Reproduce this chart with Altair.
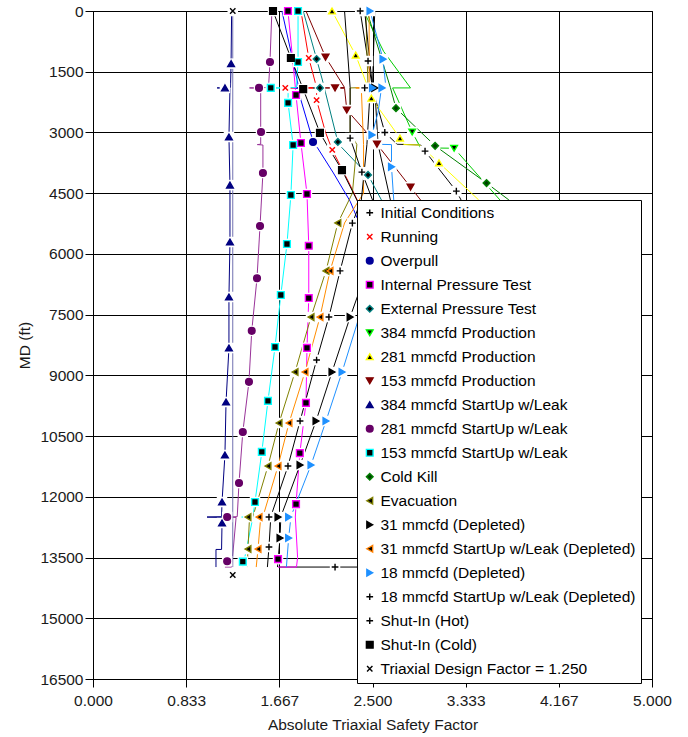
import altair as alt
import pandas as pd

# ---------------- data ----------------
names = [
    "Initial Conditions", "Running", "Overpull", "Internal Pressure Test",
    "External Pressure Test", "384 mmcfd Production", "281 mmcfd Production",
    "153 mmcfd Production", "384 mmcfd StartUp w/Leak", "281 mmcfd StartUp w/Leak",
    "153 mmcfd StartUp w/Leak", "Cold Kill", "Evacuation", "31 mmcfd (Depleted)",
    "31 mmcfd StartUp w/Leak (Depleted)", "18 mmcfd (Depleted)",
    "18 mmcfd StartUp w/Leak (Depleted)", "Shut-In (Hot)", "Shut-In (Cold)",
    "Triaxial Design Factor = 1.250",
]

# (MD ft, safety factor)
init_line = [(0, 2.39), (1235, 2.46), (1890, 2.50), (1900, 2.43), (1910, 2.50), (3000, 2.61),
             (3290, 2.72), (3310, 2.93), (3460, 2.97), (4450, 3.25), (6000, 3.55), (9000, 3.85),
             (13735, 4.2), (13735, 1.66)]
init_marks = [(0, 2.39), (1235, 2.46), (1900, 2.43), (3000, 2.61), (3460, 2.97), (4450, 3.25),
              (13735, 2.165)]

run_line = [(0, 1.86), (1160, 1.93), (1890, 2.0), (1900, 1.70), (1910, 2.0), (2200, 2.0),
            (3000, 2.08), (3430, 2.14), (4300, 2.30), (5000, 2.42), (8000, 2.9), (13735, 3.4)]
run_marks = [(1160, 1.93), (1900, 1.72), (2200, 2.0), (3430, 2.14)]

over_line = [(0, 1.69), (1000, 1.77), (1890, 1.84), (1900, 1.80), (1910, 1.84), (2200, 1.86),
             (3235, 1.97), (3300, 1.99), (4000, 2.15), (4700, 2.30), (8000, 2.8), (13735, 3.3)]
over_marks = [(3235, 1.968)]

ipt_line = [(0, 1.744), (1890, 1.81), (1900, 1.79), (1910, 1.81), (2075, 1.816), (3260, 1.86),
            (4520, 1.914), (5800, 1.93), (7090, 1.93), (8320, 1.914), (9680, 1.905),
            (10920, 1.85), (12180, 1.816), (12500, 1.81), (13500, 1.83), (13735, 1.82),
            (13735, 1.655)]
ipt_marks = [(0, 1.744), (2075, 1.816), (3260, 1.86), (4520, 1.914), (5800, 1.93), (7090, 1.93),
             (8320, 1.914), (9680, 1.905), (10920, 1.85), (12180, 1.816), (13540, 1.655)]

ept_line = [(0, 1.88), (1185, 2.0), (1890, 2.07), (1900, 1.97), (1910, 2.07), (3235, 2.19),
            (3300, 2.20), (4050, 2.46), (4668, 2.58), (8000, 3.1), (13735, 3.7)]
ept_marks = [(1185, 2.0), (1900, 2.03), (3235, 2.19), (4050, 2.46)]

p384_line = [(0, 2.42), (1000, 2.60), (1900, 2.84), (1900, 2.68), (2989, 2.855), (3380, 2.93),
             (3390, 3.23), (4668, 3.64), (6500, 4.1), (13735, 4.6)]
p384_marks = [(2989, 2.855), (3390, 3.23)]

p281_line = [(0, 2.138), (1090, 2.35), (1890, 2.46), (2150, 2.49), (3140, 2.746), (3300, 2.78),
             (3310, 2.92), (3750, 3.095), (4668, 3.45), (8000, 4.1), (13735, 4.5)]
p281_marks = [(0, 2.138), (1090, 2.35), (2150, 2.49), (3140, 2.746), (3750, 3.095)]

p153_line = [(0, 1.905), (1140, 2.08), (1890, 2.25), (1900, 2.057), (1910, 2.25), (2445, 2.27),
             (3290, 2.54), (4350, 2.84), (4668, 2.93), (8000, 3.6), (13735, 4.4)]
p153_marks = [(1140, 2.08), (1900, 2.165), (2445, 2.27), (3290, 2.54), (4350, 2.84)]

s384_line = [(0, 1.24), (1300, 1.235), (1890, 1.23), (1900, 1.11), (1910, 1.225), (3112, 1.216),
             (4300, 1.225), (5706, 1.225), (7064, 1.216), (8324, 1.216), (9658, 1.19),
             (10967, 1.18), (12128, 1.154), (12490, 1.15), (12500, 1.02), (12510, 1.15),
             (12646, 1.154), (13300, 1.15), (13300, 1.10), (13735, 1.10)]
s384_marks = [(1300, 1.235), (1900, 1.18), (3112, 1.216), (4300, 1.225), (5706, 1.225),
              (7064, 1.216), (8324, 1.216), (9658, 1.19), (10967, 1.18), (12128, 1.154),
              (12646, 1.154)]

s281_line = [(0, 1.60), (1260, 1.583), (1890, 1.57), (1900, 1.40), (1910, 1.50), (2989, 1.50),
             (3290, 1.50), (3300, 1.47), (3310, 1.52), (4000, 1.52), (5310, 1.494), (6600, 1.467),
             (7900, 1.42), (9160, 1.395), (10400, 1.34), (11660, 1.306), (12490, 1.29),
             (12500, 1.20), (12510, 1.28), (13735, 1.24), (13735, 1.18)]
s281_marks = [(1260, 1.583), (1900, 1.485), (2989, 1.503), (4000, 1.52), (5310, 1.494),
              (6600, 1.467), (7900, 1.42), (9160, 1.395), (10400, 1.34), (11660, 1.306),
              (12500, 1.20), (13590, 1.20)]

s153_line = [(0, 1.834), (1260, 1.834), (1890, 1.82), (1900, 1.59), (1910, 1.745), (2270, 1.745),
             (3310, 1.79), (4545, 1.77), (5755, 1.735), (7015, 1.68), (8300, 1.628),
             (9630, 1.565), (10890, 1.51), (12128, 1.449), (12490, 1.43), (12500, 1.33),
             (12510, 1.43), (13600, 1.35), (13735, 1.34)]
s153_marks = [(0, 1.834), (1260, 1.834), (1900, 1.59), (2270, 1.745), (3310, 1.79), (4545, 1.77),
              (5755, 1.735), (7015, 1.68), (8300, 1.628), (9630, 1.565), (10890, 1.51),
              (12128, 1.449), (13600, 1.34)]

kill_line = [(0, 2.45), (1890, 2.66), (2400, 2.71), (3330, 3.06), (4250, 3.52), (4668, 3.72),
             (8000, 4.3), (13735, 4.6)]
kill_marks = [(2400, 2.71), (3330, 3.06), (4250, 3.52)]

evac_line = [(0, 2.44), (1890, 2.46), (1900, 2.30), (3000, 2.30), (3300, 2.36), (4500, 2.32),
             (5236, 2.19), (6420, 2.084), (7560, 1.95), (8917, 1.807), (10177, 1.664),
             (11240, 1.565), (12490, 1.43), (12500, 1.386), (12510, 1.40), (13290, 1.386),
             (13735, 1.38)]
evac_marks = [(5236, 2.19), (6420, 2.084), (7560, 1.95), (8917, 1.807), (10177, 1.664),
              (11240, 1.565), (12500, 1.386), (13290, 1.386)]

d31_line = [(0, 2.43), (1890, 2.50), (1900, 2.52), (3300, 2.55), (4668, 2.66), (6000, 2.50),
            (7560, 2.30), (8917, 2.138), (10127, 1.995), (11215, 1.852), (12490, 1.68),
            (12500, 1.655), (12510, 1.68), (13017, 1.673), (13735, 1.65)]
d31_marks = [(1900, 2.52), (7560, 2.30), (8917, 2.138), (10127, 1.995), (11215, 1.852),
             (12500, 1.655), (13017, 1.673)]

s31_line = [(0, 2.47), (1890, 2.47), (1900, 2.35), (1910, 2.40), (3300, 2.42), (4500, 2.42),
            (5236, 2.25), (6420, 2.12), (7560, 2.03), (8917, 1.896), (10177, 1.753),
            (11240, 1.655), (12490, 1.52), (12500, 1.485), (12510, 1.50), (13290, 1.476),
            (13735, 1.46)]
s31_marks = [(6420, 2.12), (7560, 2.03), (8917, 1.896), (10177, 1.753), (11240, 1.655),
             (12500, 1.485), (13290, 1.476)]

d18_line = [(0, 2.478), (1190, 2.594), (1890, 2.62), (1900, 2.50), (1910, 2.58), (2500, 2.55),
            (3060, 2.495), (3290, 2.52), (3300, 2.67), (3850, 2.67), (4668, 2.69), (7560, 2.38),
            (8917, 2.228), (10127, 2.084), (11215, 1.95), (12490, 1.77), (12500, 1.75),
            (12510, 1.77), (13017, 1.75), (13735, 1.73)]
d18_marks = [(0, 2.478), (1190, 2.594), (1900, 2.50), (1900, 2.585), (3060, 2.495), (3850, 2.67),
             (8917, 2.228), (10127, 2.084), (11215, 1.95), (12500, 1.75), (13017, 1.75)]

s18_line = [(0, 2.52), (1890, 2.50), (1900, 2.40), (1910, 2.48), (3300, 2.45), (4668, 2.40),
            (5240, 2.32), (6420, 2.21), (7560, 2.11), (8620, 2.0), (10127, 1.852),
            (11240, 1.744), (12490, 1.59), (12500, 1.574), (12510, 1.59), (13240, 1.574),
            (13735, 1.56)]
s18_marks = [(5240, 2.32), (6420, 2.21), (7560, 2.11), (8620, 2.0), (10127, 1.852),
             (11240, 1.744), (12500, 1.574), (13240, 1.574)]

hot_line = [(0, 2.25), (1890, 2.30), (3140, 2.30), (3980, 2.405), (4668, 2.50), (8000, 3.0),
            (13735, 3.5)]
hot_marks = [(3140, 2.30), (3980, 2.405)]

cold_line = [(0, 1.61), (1160, 1.77), (1930, 1.88), (3010, 2.03), (3300, 2.09), (3930, 2.227),
             (4668, 2.36), (8000, 2.9), (13735, 3.5)]
cold_marks = [(0, 1.61), (1160, 1.77), (1930, 1.88), (3010, 2.03), (3930, 2.227)]

design_line = [(0, 1.25), (13735, 1.25)]
design_marks = [(0, 1.25), (13930, 1.25)]

line_lists = [init_line, run_line, over_line, ipt_line, ept_line, p384_line, p281_line,
              p153_line, s384_line, s281_line, s153_line, kill_line, evac_line, d31_line,
              s31_line, d18_line, s18_line, hot_line, cold_line, design_line]
mark_lists = [init_marks, run_marks, over_marks, ipt_marks, ept_marks, p384_marks, p281_marks,
              p153_marks, s384_marks, s281_marks, s153_marks, kill_marks, evac_marks, d31_marks,
              s31_marks, d18_marks, s18_marks, hot_marks, cold_marks, design_marks]

x_ticks = [0, 0.83333, 1.66667, 2.5, 3.33333, 4.16667, 5]
y_ticks = [0, 1500, 3000, 4500, 6000, 7500, 9000, 10500, 12000, 13500, 15000, 16500]

# ---------------- styles ----------------
PLUS = "M-1,0L1,0M0,-1L0,1"
CROSS = "M-0.8,-0.8L0.8,0.8M-0.8,0.8L0.8,-0.8"
shapes = [PLUS, CROSS, "circle", "square", "diamond", "triangle-down", "triangle-up",
          "triangle-down", "triangle-up", "circle", "square", "diamond", "triangle-left",
          "triangle-right", "triangle-left", "triangle-right", PLUS, PLUS, "square", CROSS]
line_colors = ["#000000", "#FF0000", "#0000FF", "#FF00FF", "#008080", "#00CC00", "#FFFF00",
               "#800000", "#000080", "#993399", "#00FFFF", "#008000", "#808000", "#000000",
               "#FF8C00", "#1E90FF", "#000000", "#000000", "#000000", "#7070B0"]
stroke_colors = ["#000000", "#FF0000", "#000099", "#FF00FF", "#008080", "#00FF00", "#FFFF00",
                 "#800000", "#000080", "#660066", "#00FFFF", "#008000", "#808000", "#000000",
                 "#FF8000", "#1E90FF", "#000000", "#000000", "#000000", "#000000"]
fill_colors = ["#000000", "#FF0000", "#000099", "#000000", "#000000", "#000000", "#000000",
               "#800000", "#000080", "#660066", "#000000", "#004000", "#000000", "#000000",
               "#000000", "#1E90FF", "#000000", "#000000", "#000000", "#000000"]

# line layer uses its own key domain (so its hidden colour scale does not disable the legend)
line_keys = ["line %d" % k for k in range(len(names))]

rows_l, rows_m = [], []
for key, pts in zip(line_keys, line_lists):
    for i, (d, x) in enumerate(pts):
        rows_l.append({"lkey": key, "md": d, "sf": x, "i": i})
for nm, pts in zip(names, mark_lists):
    for d, x in pts:
        rows_m.append({"series": nm, "md": d, "sf": x})
df_l = pd.DataFrame(rows_l)
df_m = pd.DataFrame(rows_m)

FONT = "Liberation Sans"
FS = 15.5

xenc = alt.X("sf:Q", scale=alt.Scale(domain=[0, 5], nice=False, zero=False),
             axis=alt.Axis(values=x_ticks, format=".3f", title="Absolute Triaxial Safety Factor",
                           grid=True, gridColor="black", gridOpacity=1, gridWidth=1,
                           tickSize=8, labelPadding=6, titlePadding=9, labelFlush=False,
                           labelOverlap=False, domainColor="black", tickColor="black"))
yenc = alt.Y("md:Q", scale=alt.Scale(domain=[0, 16500], reverse=True, nice=False, zero=False),
             axis=alt.Axis(values=y_ticks, format="d", title="MD (ft)",
                           grid=True, gridColor="black", gridOpacity=1, gridWidth=1,
                           tickSize=8, labelPadding=2, titlePadding=7, labelFlush=False,
                           labelOverlap=False, domainColor="black", tickColor="black"))

lines = alt.Chart(df_l).mark_line(strokeWidth=1, clip=True).encode(
    x=xenc, y=yenc,
    color=alt.Color("lkey:N", scale=alt.Scale(domain=line_keys, range=line_colors), legend=None),
    order=alt.Order("i:Q"),
)

bg = alt.Chart(df_m).mark_point(shape="square", filled=True, color="white", size=110,
                                opacity=1).encode(x="sf:Q", y="md:Q")

leg = alt.Legend(
    title=None, orient="none", legendX=264, legendY=189, fillColor="white",
    strokeColor="black", padding=5, rowPadding=7.0, labelFontSize=FS,
    labelFont=FONT, labelColor="#000000", symbolSize=45, symbolStrokeWidth=1.4,
    labelOffset=3, labelLimit=400,
)

marks = alt.Chart(df_m).mark_point(filled=True, size=45, strokeWidth=1.4, opacity=1).encode(
    x="sf:Q", y="md:Q",
    shape=alt.Shape("series:N", scale=alt.Scale(domain=names, range=shapes), legend=leg),
    fill=alt.Fill("series:N", scale=alt.Scale(domain=names, range=fill_colors), legend=leg),
    stroke=alt.Stroke("series:N", scale=alt.Scale(domain=names, range=stroke_colors), legend=leg),
)

chart = alt.layer(lines, bg, marks).properties(
    width=559, height=668, autosize="none",
    padding={"left": 93, "top": 11, "right": 36, "bottom": 58},
).configure(font=FONT).configure_view(
    stroke="black", strokeWidth=1
).configure_axis(
    labelFontSize=FS, titleFontSize=FS, titleFontWeight="normal", labelColor="#1a1a1a",
    titleColor="#1a1a1a", labelFont=FONT, titleFont=FONT
)

chart.save("out.html", embed_options={"renderer": "svg", "actions": False})
